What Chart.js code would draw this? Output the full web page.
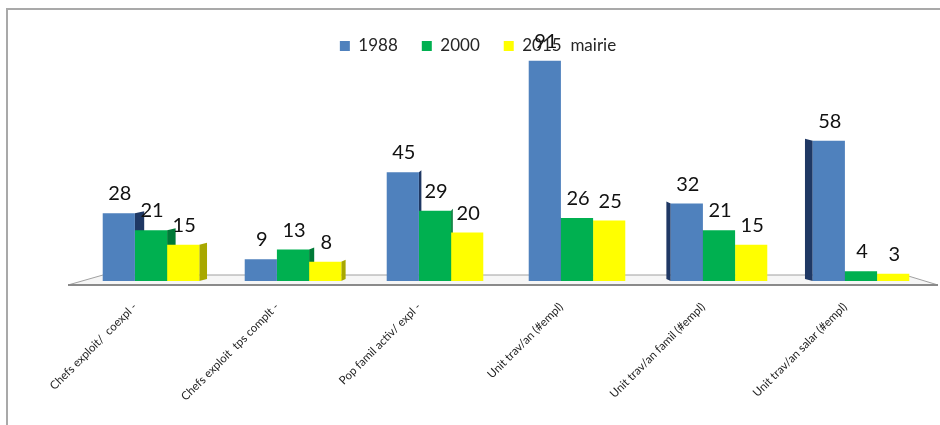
<!DOCTYPE html>
<html>
<head>
<meta charset="utf-8">
<script src="https://cdn.jsdelivr.net/npm/chart.js@4.4.0/dist/chart.umd.min.js"></script>
<style>
  body { margin: 0; background: #fff; }
  #cadre { position: absolute; left: 6px; top: 8px; width: 940px; height: 425px;
           border-left: 2px solid #a9a9a9; border-top: 2px solid #a9a9a9; }
  #graphique { position: absolute; left: 0; top: 0; }
</style>
</head>
<body>
<div id="cadre"></div>
<canvas id="graphique" width="940" height="425"></canvas>
<script>
var categories = [
    'Chefs exploit/  coexpl -',
    'Chefs exploit  tps complt -',
    'Pop famil activ/ expl -',
    'Unit trav/an (#empl)',
    'Unit trav/an famil (#empl)',
    'Unit trav/an salar (#empl)'
];
var annees = ['1988', '2000', '2015  mairie'];
var valeurs1988 = [28, 9, 45, 91, 32, 58];
var valeurs2000 = [21, 13, 29, 26, 21, 4];
var valeurs2015 = [15, 8, 20, 25, 15, 3];

var couleurs = ['#4F81BD', '#00B050', '#FFFF00'];
var couleursCote = ['#1F3864', '#007A37', '#A8A800'];
var police = "Lato, 'Open Sans', sans-serif";

// plancher + faces laterales des barres (effet 3D)
var effet3d = {
    id: 'effet3d',
    beforeDatasetsDraw: function (chart) {
        var ctx = chart.ctx, ca = chart.chartArea;
        var base = chart.scales.y.getPixelForValue(0);
        ctx.save();
        ctx.beginPath();
        ctx.moveTo(ca.left - 12, base + 4);
        ctx.lineTo(ca.left + 23, base - 6);
        ctx.lineTo(ca.right - 27, base - 6);
        ctx.lineTo(ca.right + 6, base + 4);
        ctx.closePath();
        ctx.fillStyle = '#f6f6f6';
        ctx.fill();
        ctx.strokeStyle = '#a0a0a0';
        ctx.lineWidth = 1;
        ctx.stroke();
        ctx.beginPath();
        ctx.moveTo(ca.left - 12, base + 4);
        ctx.lineTo(ca.right + 6, base + 4);
        ctx.strokeStyle = '#8a8a8a';
        ctx.lineWidth = 2;
        ctx.stroke();

        var cx = (ca.left + ca.right) / 2;
        chart.data.datasets.forEach(function (ds, i) {
            chart.getDatasetMeta(i).data.forEach(function (bar) {
                var d = (cx - bar.x) * 0.024;
                if (Math.abs(d) < 1) return;
                var bord = d > 0 ? bar.x + bar.width / 2 : bar.x - bar.width / 2;
                ctx.beginPath();
                ctx.moveTo(bord, bar.y);
                ctx.lineTo(bord + d, bar.y - 2);
                ctx.lineTo(bord + d, bar.base - 2);
                ctx.lineTo(bord, bar.base);
                ctx.closePath();
                ctx.fillStyle = couleursCote[i];
                ctx.fill();
            });
        });
        ctx.restore();
    },
    afterDatasetsDraw: function (chart) {
        var ctx = chart.ctx;
        ctx.save();
        ctx.font = '20px ' + police;
        ctx.fillStyle = '#111';
        ctx.textAlign = 'center';
        ctx.textBaseline = 'alphabetic';
        chart.data.datasets.forEach(function (ds, i) {
            chart.getDatasetMeta(i).data.forEach(function (bar, j) {
                ctx.fillText(ds.data[j], bar.x + 1, bar.y - 13);
            });
        });
        ctx.restore();
    }
};

var graphique = document.getElementById('graphique').getContext('2d');
var chart = new Chart(graphique, {
    type: 'bar',
    data: {
        labels: categories,
        datasets: [
            { label: annees[0], data: valeurs1988, backgroundColor: couleurs[0] },
            { label: annees[1], data: valeurs2000, backgroundColor: couleurs[1] },
            { label: annees[2], data: valeurs2015, backgroundColor: couleurs[2] }
        ]
    },
    options: {
        responsive: false,
        animation: false,
        devicePixelRatio: 1,
        layout: { padding: { left: 24, right: 8, top: 13.5, bottom: 0 } },
        datasets: { bar: { categoryPercentage: 0.68, barPercentage: 1.0, clip: false } },
        plugins: {
            legend: {
                position: 'top',
                labels: {
                    boxWidth: 10, boxHeight: 10, padding: 24,
                    color: '#262626',
                    font: { family: police, size: 17 }
                }
            },
            tooltip: { enabled: false }
        },
        scales: {
            x: {
                grid: { display: false },
                border: { display: false },
                ticks: {
                    autoSkip: false, minRotation: 45, maxRotation: 45, padding: 11,
                    labelOffset: -16,
                    color: '#222', font: { family: police, size: 11.5 }
                },
                afterFit: function (scale) { scale.height = 144; }
            },
            y: {
                min: 0, max: 89.5,
                grid: { display: false },
                border: { display: false },
                ticks: { display: false },
                afterFit: function (scale) { scale.width = 56; }
            }
        }
    },
    plugins: [effet3d]
});
</script>
</body>
</html>
